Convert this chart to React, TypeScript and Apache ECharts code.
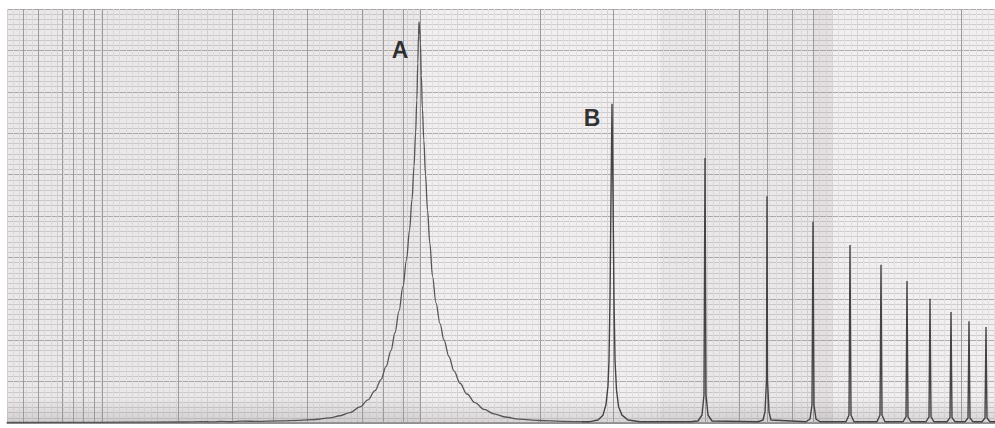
import React, { useEffect, useRef } from "react";
import * as echarts from "echarts";

// x: position along the (unlabelled) frequency axis, y: relative amplitude
const baselineAndPeakA: [number, number][] = [
  [0, 0.12], [60, 0.15], [120, 0.2], [173, 0.24], [195, 0.35], [205, 0.25], [215, 0.4],
  [225, 0.3], [235, 0.45], [250, 0.4], [273, 0.5], [293, 0.62], [308, 0.85], [323, 1.25],
  [333, 1.75], [343, 2.5], [353, 3.9], [361, 5.6], [368, 7.8], [374, 10.5], [379, 13.6],
  [384, 17.5], [388, 21.8], [392, 27.0], [396, 33.0], [399.5, 39.4], [402.5, 46.5],
  [405, 54.0], [407, 62.0], [408.6, 70.0], [409.8, 78.0], [410.8, 87.0], [411.5, 93.7],
  [412, 96.9], [412.6, 95.4], [413.4, 91.8], [414.3, 84.0], [415.4, 76.0], [416.8, 68.4],
  [418.5, 60.0], [420.5, 51.5], [422.8, 43.5], [425.5, 35.5], [429, 29.0], [433, 24.0],
  [437, 20.0], [442, 16.0], [447, 12.6], [453, 9.6], [460, 7.0], [468, 4.9], [477, 3.3],
  [487, 2.2], [498, 1.45], [512, 0.95], [533, 0.6], [555, 0.4], [575, 0.32],
];
const peakB: [number, number][] = [
  [575, 0.32], [583, 0.32], [591, 0.72], [596, 1.9], [599, 4.5], [601, 9.0], [602, 15.2],
  [603, 30.0], [604, 55.0], [605, 77.1], [606, 55.0], [607, 30.0], [608, 15.2],
  [609.5, 8.0], [611.5, 4.0], [615, 1.9], [621, 0.72], [633, 0.3],
];
const harmonics: [number, number][] = [
  [683, 0.3], [691, 0.48], [695, 1.93], [697, 6.76], [698, 64.0], [699, 6.76], [701, 1.93],
  [705, 0.48], [751, 0.3], [756, 0.72], [758, 2.66], [759.5, 10.4], [760, 54.8],
  [760.5, 10.4], [762, 2.66], [764, 0.72], [799, 0.3], [803, 0.97], [805, 4.35],
  [806, 48.6], [807, 4.35], [809, 0.97], [813, 0.3],
  [839, 0.3], [842, 1.93], [843, 43.0], [844, 1.93], [847, 0.3],
  [870, 0.3], [873, 1.93], [874, 38.2], [875, 1.93], [878, 0.3],
  [896, 0.3], [899, 1.5], [900, 34.3], [901, 1.5], [904, 0.3],
  [919, 0.3], [922, 1.5], [923, 30.0], [924, 1.5], [927, 0.3],
  [940, 0.3], [943, 1.3], [944, 26.8], [945, 1.3], [948, 0.3],
  [958, 0.3], [961, 1.2], [962, 24.6], [963, 1.2], [966, 0.3],
  [975, 0.3], [978, 1.2], [979, 23.2], [980, 1.2], [983, 0.3], [988, 0.3],
];

// darker ruled lines of the graph paper
const majorGridX = [
  16, 31, 55, 66, 76, 87, 95, 171, 225, 266, 300, 355, 376, 396, 413, 533, 606, 698,
  732, 760, 785, 806, 954,
];

const peakLabels = [
  { name: "A", x: 393, y: 90.1 },
  { name: "B", x: 585, y: 73.7 },
];

export default function App() {
  const ref = useRef<HTMLDivElement>(null);
  useEffect(() => {
    if (!ref.current) return;
    const chart = echarts.init(ref.current, undefined, { renderer: "svg" });
    chart.setOption({
      animation: false,
      backgroundColor: "#ffffff",
      grid: {
        left: 7,
        right: 0,
        top: 9,
        bottom: 5,
        show: true,
        backgroundColor: "#f2eff0",
        borderWidth: 0,
      },
      xAxis: {
        type: "value",
        min: 0,
        max: 988,
        interval: 50,
        axisLabel: { show: false },
        axisTick: { show: false },
        axisLine: { show: true, lineStyle: { color: "#8a8688", width: 1.5 } },
        splitLine: { show: true, lineStyle: { color: "#d8d4d6", width: 1 } },
        minorTick: { show: false, splitNumber: 8 },
        minorSplitLine: { show: true, lineStyle: { color: "#e3dfe1", width: 1 } },
      },
      yAxis: {
        type: "value",
        min: 0,
        max: 100,
        interval: 10,
        axisLabel: { show: false },
        axisTick: { show: false },
        axisLine: { show: false },
        splitLine: { show: true, lineStyle: { color: "#aeaaac", width: 1 } },
        minorTick: { show: false, splitNumber: 8 },
        minorSplitLine: { show: true, lineStyle: { color: "#d0ccce", width: 1 } },
      },
      series: [
        {
          type: "line",
          data: baselineAndPeakA,
          showSymbol: false,
          symbol: "none",
          silent: true,
          smooth: 0.35,
          smoothMonotone: "x",
          lineStyle: { color: "#555555", width: 1.3 },
          z: 5,
          markLine: {
            silent: true,
            symbol: "none",
            label: { show: false },
            lineStyle: { color: "#9e9a9c", width: 1, type: "solid" },
            data: majorGridX.map((x) => ({ xAxis: x })),
            z: 2,
          },
          markArea: {
            silent: true,
            data: [
              [{ xAxis: 0, itemStyle: { color: "rgba(120,110,115,0.05)" } }, { xAxis: 413 }],
              [{ xAxis: 653, itemStyle: { color: "rgba(120,110,115,0.05)" } }, { xAxis: 806 }],
              [{ xAxis: 806, itemStyle: { color: "rgba(120,110,115,0.11)" } }, { xAxis: 826 }],
              [
                {
                  yAxis: 0,
                  itemStyle: {
                    color: new echarts.graphic.LinearGradient(0, 0, 0, 1, [
                      { offset: 0, color: "rgba(120,115,118,0.0)" },
                      { offset: 1, color: "rgba(120,115,118,0.22)" },
                    ]),
                  },
                },
                { yAxis: 6 },
              ],
            ],
          },
        },
        {
          type: "line",
          data: [...peakB, ...harmonics],
          showSymbol: false,
          symbol: "none",
          silent: true,
          lineStyle: { color: "#444444", width: 1.4 },
          z: 5,
        },
        {
          type: "scatter",
          silent: true,
          symbolSize: 1,
          itemStyle: { color: "rgba(0,0,0,0)" },
          data: peakLabels.map((p) => ({ name: p.name, value: [p.x, p.y] })),
          label: {
            show: true,
            position: "inside",
            formatter: (p: any) => p.name,
            fontFamily: "Liberation Sans, Arial, sans-serif",
            fontWeight: "bold",
            fontSize: 23,
            color: "#000000",
          },
          z: 10,
        },
      ],
    });
    return () => chart.dispose();
  }, []);
  return (
    <div
      ref={ref}
      style={{ position: "fixed", left: 0, top: 0, width: 995, height: 428 }}
    />
  );
}
